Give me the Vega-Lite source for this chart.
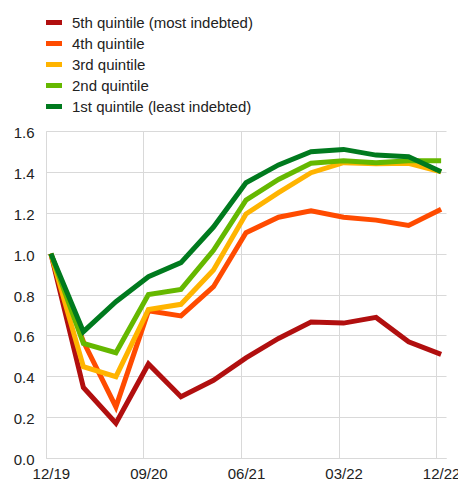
{
  "$schema": "https://vega.github.io/schema/vega-lite/v6.json",
  "width": 400,
  "height": 327,
  "autosize": {"type": "none"},
  "padding": {"left": 46, "top": 131, "right": 12, "bottom": 23},
  "background": "white",
  "config": {
    "view": {"stroke": null},
    "font": "Liberation Sans",
    "axis": {"labelFont": "Liberation Sans", "labelFontSize": 15, "labelColor": "#222222", "gridColor": "#d9d9d9", "gridWidth": 1, "domainColor": "#d9d9d9", "domainWidth": 1, "ticks": false, "title": null}
  },
  "data": {"values": [
    {"quarter": "12/19", "quintile": "5th quintile (most indebted)", "value": 1.0},
    {"quarter": "03/20", "quintile": "5th quintile (most indebted)", "value": 0.345},
    {"quarter": "06/20", "quintile": "5th quintile (most indebted)", "value": 0.17},
    {"quarter": "09/20", "quintile": "5th quintile (most indebted)", "value": 0.46},
    {"quarter": "12/20", "quintile": "5th quintile (most indebted)", "value": 0.30},
    {"quarter": "03/21", "quintile": "5th quintile (most indebted)", "value": 0.38},
    {"quarter": "06/21", "quintile": "5th quintile (most indebted)", "value": 0.49},
    {"quarter": "09/21", "quintile": "5th quintile (most indebted)", "value": 0.585},
    {"quarter": "12/21", "quintile": "5th quintile (most indebted)", "value": 0.665},
    {"quarter": "03/22", "quintile": "5th quintile (most indebted)", "value": 0.66},
    {"quarter": "06/22", "quintile": "5th quintile (most indebted)", "value": 0.688},
    {"quarter": "09/22", "quintile": "5th quintile (most indebted)", "value": 0.569},
    {"quarter": "12/22", "quintile": "5th quintile (most indebted)", "value": 0.507},
    {"quarter": "12/19", "quintile": "4th quintile", "value": 1.0},
    {"quarter": "03/20", "quintile": "4th quintile", "value": 0.57},
    {"quarter": "06/20", "quintile": "4th quintile", "value": 0.25},
    {"quarter": "09/20", "quintile": "4th quintile", "value": 0.72},
    {"quarter": "12/20", "quintile": "4th quintile", "value": 0.695},
    {"quarter": "03/21", "quintile": "4th quintile", "value": 0.838},
    {"quarter": "06/21", "quintile": "4th quintile", "value": 1.102},
    {"quarter": "09/21", "quintile": "4th quintile", "value": 1.178},
    {"quarter": "12/21", "quintile": "4th quintile", "value": 1.21},
    {"quarter": "03/22", "quintile": "4th quintile", "value": 1.178},
    {"quarter": "06/22", "quintile": "4th quintile", "value": 1.164},
    {"quarter": "09/22", "quintile": "4th quintile", "value": 1.138},
    {"quarter": "12/22", "quintile": "4th quintile", "value": 1.217},
    {"quarter": "12/19", "quintile": "3rd quintile", "value": 1.0},
    {"quarter": "03/20", "quintile": "3rd quintile", "value": 0.447},
    {"quarter": "06/20", "quintile": "3rd quintile", "value": 0.398},
    {"quarter": "09/20", "quintile": "3rd quintile", "value": 0.727},
    {"quarter": "12/20", "quintile": "3rd quintile", "value": 0.752},
    {"quarter": "03/21", "quintile": "3rd quintile", "value": 0.92},
    {"quarter": "06/21", "quintile": "3rd quintile", "value": 1.194},
    {"quarter": "09/21", "quintile": "3rd quintile", "value": 1.298},
    {"quarter": "12/21", "quintile": "3rd quintile", "value": 1.396},
    {"quarter": "03/22", "quintile": "3rd quintile", "value": 1.445},
    {"quarter": "06/22", "quintile": "3rd quintile", "value": 1.44},
    {"quarter": "09/22", "quintile": "3rd quintile", "value": 1.442},
    {"quarter": "12/22", "quintile": "3rd quintile", "value": 1.40},
    {"quarter": "12/19", "quintile": "2nd quintile", "value": 1.0},
    {"quarter": "03/20", "quintile": "2nd quintile", "value": 0.561},
    {"quarter": "06/20", "quintile": "2nd quintile", "value": 0.515},
    {"quarter": "09/20", "quintile": "2nd quintile", "value": 0.80},
    {"quarter": "12/20", "quintile": "2nd quintile", "value": 0.825},
    {"quarter": "03/21", "quintile": "2nd quintile", "value": 1.016},
    {"quarter": "06/21", "quintile": "2nd quintile", "value": 1.262},
    {"quarter": "09/21", "quintile": "2nd quintile", "value": 1.363},
    {"quarter": "12/21", "quintile": "2nd quintile", "value": 1.442},
    {"quarter": "03/22", "quintile": "2nd quintile", "value": 1.455},
    {"quarter": "06/22", "quintile": "2nd quintile", "value": 1.445},
    {"quarter": "09/22", "quintile": "2nd quintile", "value": 1.455},
    {"quarter": "12/22", "quintile": "2nd quintile", "value": 1.455},
    {"quarter": "12/19", "quintile": "1st quintile (least indebted)", "value": 1.0},
    {"quarter": "03/20", "quintile": "1st quintile (least indebted)", "value": 0.618},
    {"quarter": "06/20", "quintile": "1st quintile (least indebted)", "value": 0.765},
    {"quarter": "09/20", "quintile": "1st quintile (least indebted)", "value": 0.887},
    {"quarter": "12/20", "quintile": "1st quintile (least indebted)", "value": 0.956},
    {"quarter": "03/21", "quintile": "1st quintile (least indebted)", "value": 1.13},
    {"quarter": "06/21", "quintile": "1st quintile (least indebted)", "value": 1.347},
    {"quarter": "09/21", "quintile": "1st quintile (least indebted)", "value": 1.434},
    {"quarter": "12/21", "quintile": "1st quintile (least indebted)", "value": 1.499},
    {"quarter": "03/22", "quintile": "1st quintile (least indebted)", "value": 1.51},
    {"quarter": "06/22", "quintile": "1st quintile (least indebted)", "value": 1.482},
    {"quarter": "09/22", "quintile": "1st quintile (least indebted)", "value": 1.474},
    {"quarter": "12/22", "quintile": "1st quintile (least indebted)", "value": 1.401}
  ]},
  "mark": {"type": "line", "strokeWidth": 5, "strokeJoin": "miter"},
  "encoding": {
    "x": {
      "field": "quarter",
      "type": "ordinal",
      "scale": {"type": "point", "padding": 0.15, "domain": ["12/19","03/20","06/20","09/20","12/20","03/21","06/21","09/21","12/21","03/22","06/22","09/22","12/22"]},
      "axis": {"values": ["12/19","09/20","06/21","03/22","12/22"], "labelAngle": 0, "grid": true, "tickOffset": -5, "labelOffset": 5, "labelPadding": 8, "labelAlign": "center", "labelFlush": false}
    },
    "y": {
      "field": "value",
      "type": "quantitative",
      "scale": {"domain": [0, 1.6], "nice": false},
      "axis": {"values": [0, 0.2, 0.4, 0.6, 0.8, 1.0, 1.2, 1.4, 1.6], "format": ".1f", "labelPadding": 12, "labelOffset": 1.5, "grid": true}
    },
    "color": {
      "field": "quintile",
      "type": "nominal",
      "scale": {
        "domain": ["5th quintile (most indebted)", "4th quintile", "3rd quintile", "2nd quintile", "1st quintile (least indebted)"],
        "range": ["#b10f0f", "#ff4b00", "#ffb400", "#65b800", "#007a1e"]
      },
      "legend": {
        "orient": "none",
        "legendX": -2.5,
        "legendY": -119,
        "title": null,
        "padding": 0,
        "symbolType": "stroke",
        "symbolSize": 256,
        "symbolStrokeWidth": 5,
        "labelFont": "Liberation Sans",
        "labelFontSize": 15,
        "labelColor": "#222222",
        "labelOffset": 7.5,
        "rowPadding": -1.7,
        "labelLimit": 400
      }
    }
  }
}
